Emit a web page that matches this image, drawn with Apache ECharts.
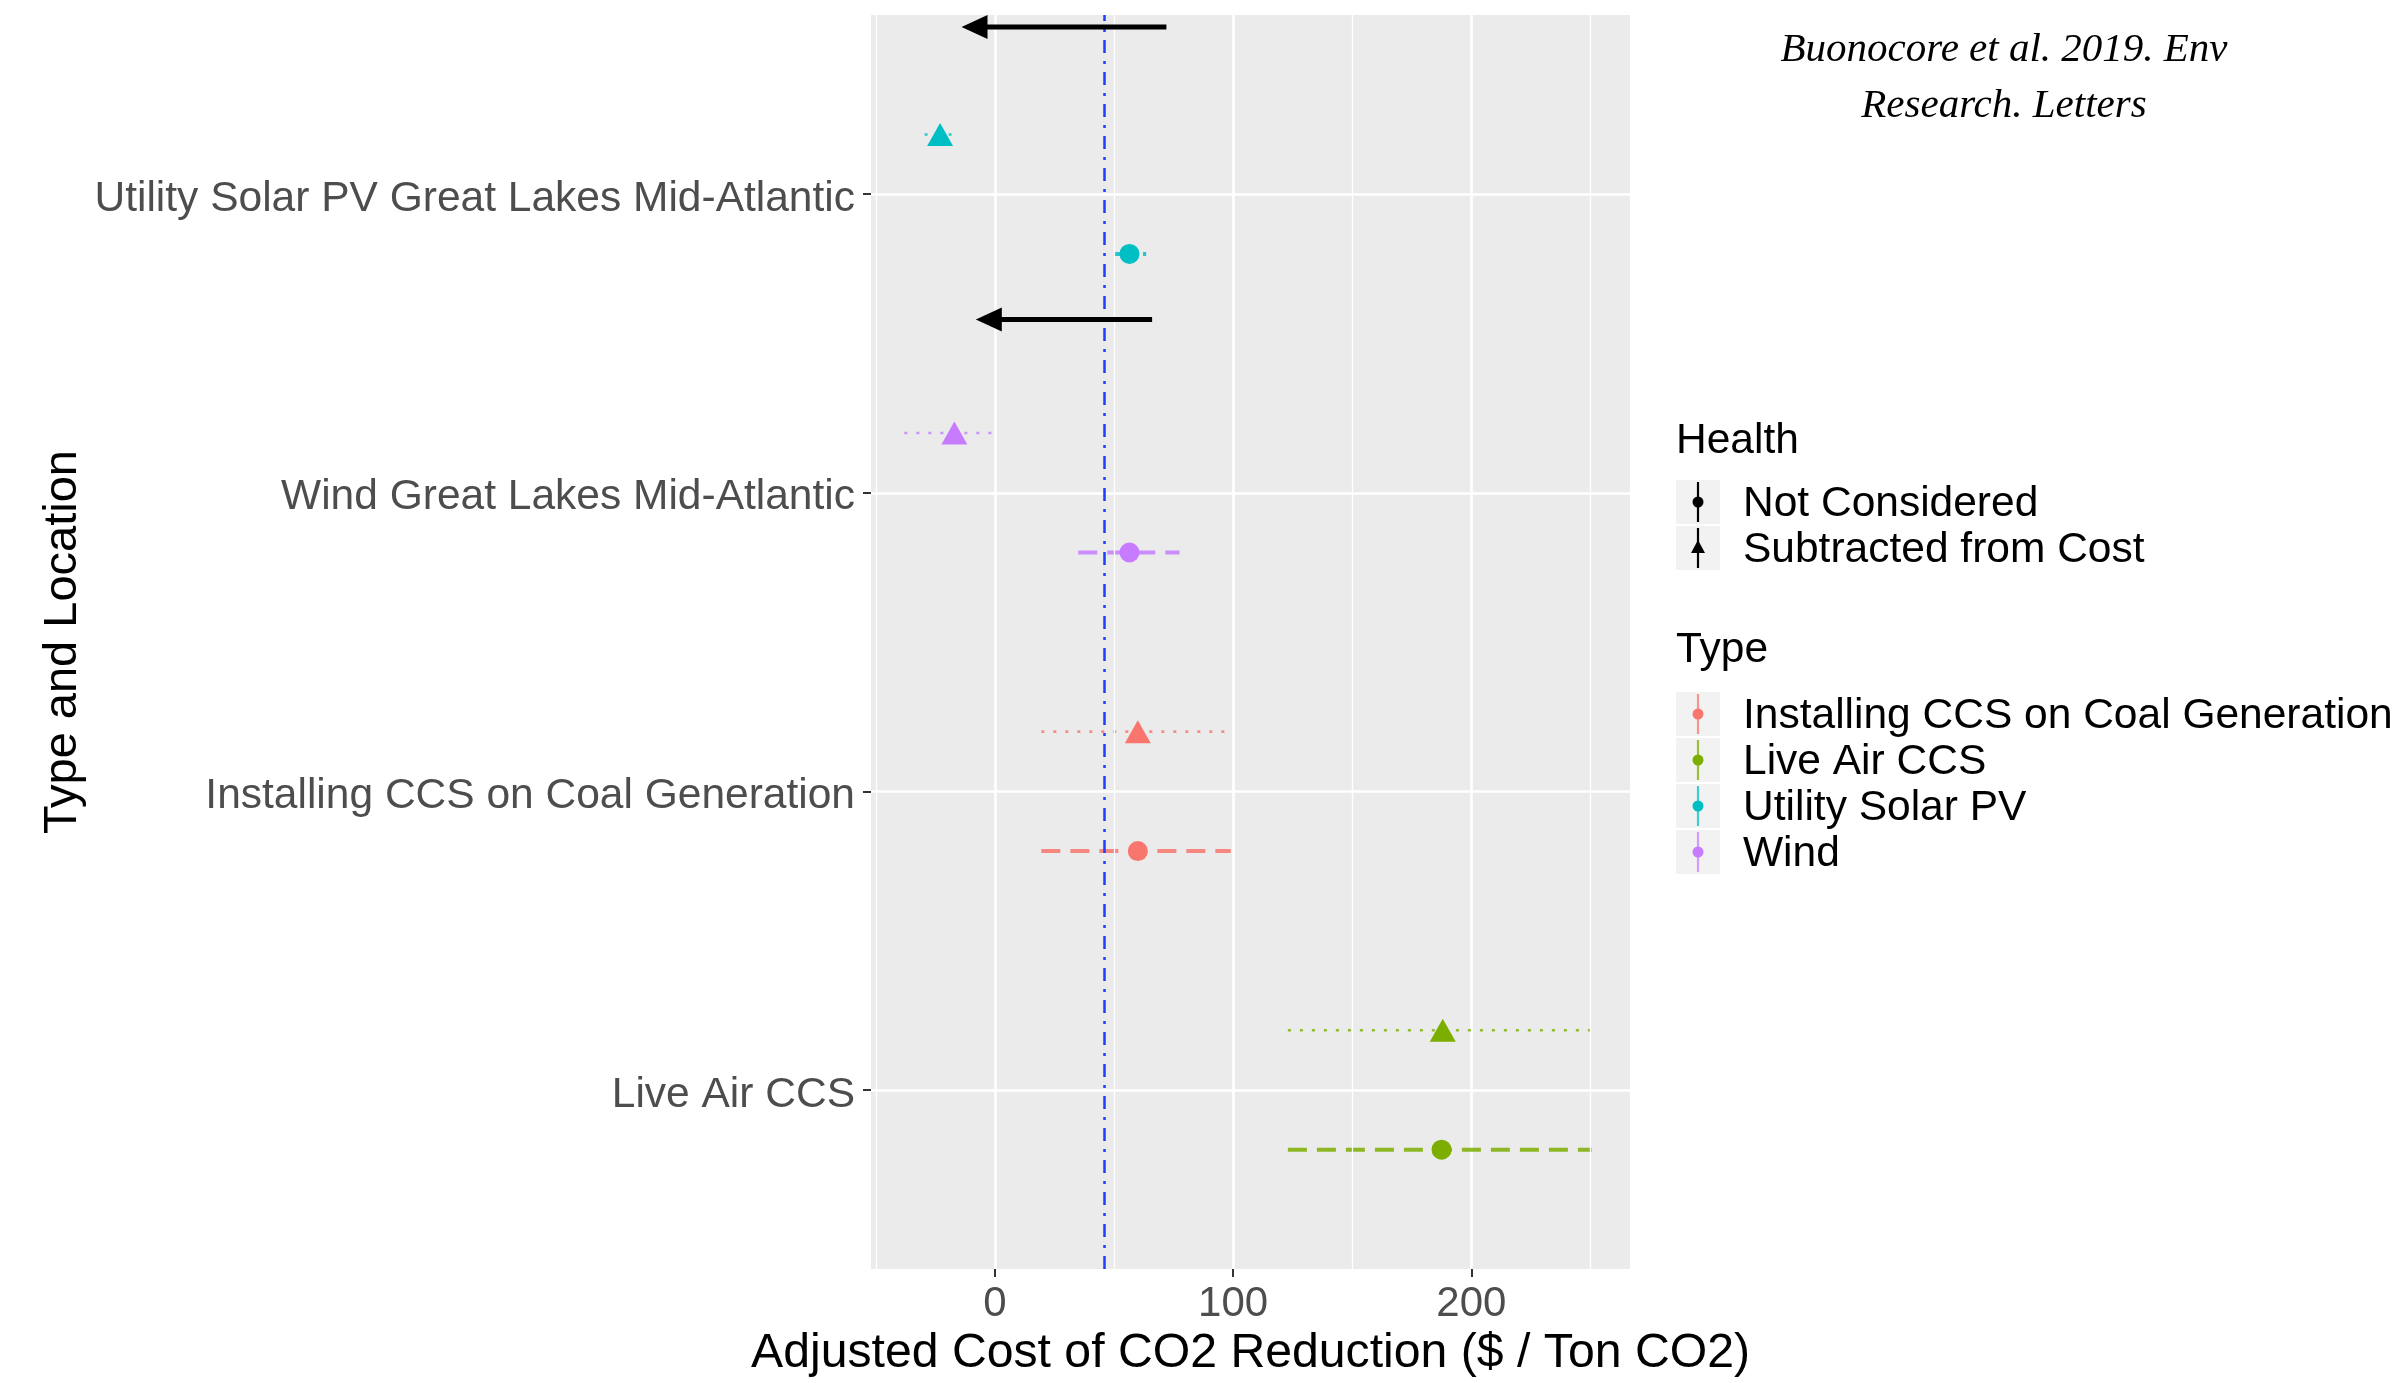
<!DOCTYPE html>
<html>
<head>
<meta charset="utf-8">
<script src="https://cdn.jsdelivr.net/npm/echarts@6/dist/echarts.min.js"></script>
<style>
html,body{margin:0;padding:0;background:#fff;}
#chart{width:2393px;height:1383px;}
</style>
</head>
<body>
<div id="chart"></div>
<script>
// ---------------- DATA ----------------
// y categories (bottom to top)
const categories = ['Live Air CCS', 'Installing CCS on Coal Generation', 'Wind Great Lakes Mid-Atlantic', 'Utility Solar PV Great Lakes Mid-Atlantic'];
// type of each category (index into typeNames)
const categoryType = [1, 0, 3, 2];
const typeNames = ['Installing CCS on Coal Generation', 'Live Air CCS', 'Utility Solar PV', 'Wind'];
const healthNames = ['Not Considered', 'Subtracted from Cost'];
// Health: Not Considered (circles, dashed ranges)
const notConsideredMid  = [187.5, 60, 56.5, 56.5];
const notConsideredLow  = [123, 19.5, 35, 50];
const notConsideredHigh = [250.5, 99, 77.5, 63.5];
// Health: Subtracted from Cost (triangles, dotted ranges)
const subtractedMid  = [188, 60, -17, -23];
const subtractedLow  = [123, 19.5, -38, -29.5];
const subtractedHigh = [252.5, 98, 1.5, -18];
// reference line (dot-dash blue)
const referenceValue = [46];
// annotation arrows: from -> to, at y
const arrowFrom = [72, 66];
const arrowTo = [-14, -8];
const arrowY = [4.56, 3.58];
// axis ticks
const xTicks = [0, 100, 200];
const xMinorGrid = [-50, 50, 150, 250];
const yTicks = [1, 2, 3, 4];
const citation = ['Buonocore et al. 2019. Env', 'Research. Letters'];
const xTitle = 'Adjusted Cost of CO2 Reduction ($ / Ton CO2)';
const yTitle = 'Type and Location';

// ---------------- STYLE ----------------
const typeColors = ['#F8766D', '#7CAE00', '#00BFC4', '#C77CFF'];
const dodge = 0.2;
const FONT = 'Liberation Sans, Arial, sans-serif';

const chart = echarts.init(document.getElementById('chart'), null, {renderer: 'canvas'});

const series = [];

// minor grid lines
series.push({
  type: 'scatter', data: [], z: 1, silent: true,
  markLine: {
    symbol: 'none', silent: true, animation: false,
    label: {show: false},
    lineStyle: {color: '#FFFFFF', width: 1.3, type: 'solid'},
    data: xMinorGrid.map(v => ({xAxis: v}))
  }
});

// error bars
function errorBarSeries(low, high, healthIdx) {
  const data = categories.map((c, i) => [low[i], high[i], i + 1 + (healthIdx === 0 ? -dodge : dodge), categoryType[i]]);
  return {
    type: 'custom', z: 3, silent: true, animation: false,
    data: data,
    encode: {x: [0, 1], y: 2},
    renderItem: function (params, api) {
      const y = api.value(2);
      const p1 = api.coord([api.value(0), y]);
      const p2 = api.coord([api.value(1), y]);
      const col = typeColors[api.value(3)];
      const dashed = healthIdx === 0;
      return {
        type: 'line',
        shape: {x1: p1[0], y1: p1[1], x2: p2[0], y2: p2[1]},
        style: {
          stroke: col,
          lineWidth: dashed ? 4 : 2.6,
          lineDash: dashed ? [19, 10] : [3, 9],
          opacity: dashed ? 0.85 : 0.8
        }
      };
    }
  };
}
series.push(errorBarSeries(notConsideredLow, notConsideredHigh, 0));
series.push(errorBarSeries(subtractedLow, subtractedHigh, 1));

// points
categories.forEach((c, i) => {
  const col = typeColors[categoryType[i]];
  series.push({
    type: 'scatter', z: 4, animation: false, silent: true,
    symbol: 'circle', symbolSize: 20,
    itemStyle: {color: col, opacity: 1},
    data: [[notConsideredMid[i], i + 1 - dodge]]
  });
  series.push({
    type: 'scatter', z: 4, animation: false, silent: true,
    symbol: 'triangle', symbolSize: [26, 23],
    itemStyle: {color: col, opacity: 1},
    data: [[subtractedMid[i], i + 1 + dodge]]
  });
});

// reference line
series.push({
  type: 'scatter', data: [], z: 5, silent: true,
  markLine: {
    symbol: 'none', silent: true, animation: false,
    label: {show: false},
    lineStyle: {color: '#1F3DFF', width: 2.5, type: [13, 8, 3, 8]},
    data: referenceValue.map(v => ({xAxis: v}))
  }
});

// arrows
series.push({
  type: 'custom', z: 6, silent: true, animation: false,
  data: arrowFrom.map((f, i) => [f, arrowTo[i], arrowY[i]]),
  encode: {x: [0, 1], y: 2},
  renderItem: function (params, api) {
    const y = api.value(2);
    const p1 = api.coord([api.value(0), y]);
    const p2 = api.coord([api.value(1), y]);
    const headLen = 26, headHalf = 12;
    return {
      type: 'group',
      children: [
        {type: 'line', shape: {x1: p1[0], y1: p1[1], x2: p2[0] + headLen - 2, y2: p2[1]},
         style: {stroke: '#000', lineWidth: 5}},
        {type: 'polygon', shape: {points: [[p2[0], p2[1]], [p2[0] + headLen, p2[1] - headHalf], [p2[0] + headLen, p2[1] + headHalf]]},
         style: {fill: '#000'}}
      ]
    };
  }
});

// ---------------- LEGEND (graphic) ----------------
const legendX = 1676, keyW = 44, keyH = 44, textX = 1743;
const LFS = 42.5;
const graphics = [];
function addText(txt, x, y, size, color) {
  graphics.push({
    type: 'text', x: x, y: y,
    style: {text: txt, font: size + 'px ' + FONT, fill: color || '#000', textVerticalAlign: 'middle', textAlign: 'left'}
  });
}
addText('Health', legendX, 441, LFS, '#000');
const healthY = [502, 548];
healthNames.forEach((h, i) => {
  const cy = healthY[i];
  graphics.push({type: 'rect', shape: {x: legendX, y: cy - keyH / 2, width: keyW, height: keyH}, style: {fill: '#F2F2F2'}});
  graphics.push({type: 'line', shape: {x1: legendX + keyW / 2, y1: cy - keyH / 2 + 2, x2: legendX + keyW / 2, y2: cy + keyH / 2 - 2}, style: {stroke: '#000', lineWidth: 2.2}});
  if (i === 0) {
    graphics.push({type: 'circle', shape: {cx: legendX + keyW / 2, cy: cy, r: 5.5}, style: {fill: '#000'}});
  } else {
    graphics.push({type: 'polygon', shape: {points: [[legendX + keyW / 2, cy - 8], [legendX + keyW / 2 - 7, cy + 5], [legendX + keyW / 2 + 7, cy + 5]]}, style: {fill: '#000'}});
  }
  addText(h, textX, cy + 2, LFS, '#000');
});
addText('Type', legendX, 650, LFS, '#000');
typeNames.forEach((t, i) => {
  const cy = 714 + 46 * i;
  graphics.push({type: 'rect', shape: {x: legendX, y: cy - keyH / 2, width: keyW, height: keyH}, style: {fill: '#F2F2F2'}});
  graphics.push({type: 'line', shape: {x1: legendX + keyW / 2, y1: cy - keyH / 2 + 2, x2: legendX + keyW / 2, y2: cy + keyH / 2 - 2}, style: {stroke: typeColors[i], lineWidth: 2.2, opacity: 0.75}});
  graphics.push({type: 'circle', shape: {cx: legendX + keyW / 2, cy: cy, r: 5.5}, style: {fill: typeColors[i]}});
  addText(t, textX, cy + 2, LFS, '#000');
});
// citation
citation.forEach((line, i) => {
  graphics.push({
    type: 'text', x: 2004, y: 50 + 56 * i,
    style: {text: line, font: 'italic 41px "Liberation Serif", "Times New Roman", serif', fill: '#000', textAlign: 'center', textVerticalAlign: 'middle'}
  });
});

const option = {
  backgroundColor: '#FFFFFF',
  animation: false,
  grid: {
    left: 871, right: 763, top: 15, bottom: 112,
    show: true, backgroundColor: '#EBEBEB', borderWidth: 0, containLabel: false
  },
  xAxis: {
    type: 'value', min: -52, max: 266.6,
    axisLine: {show: false, onZero: false},
    axisTick: {show: true, customValues: xTicks, length: 8, lineStyle: {color: '#333333', width: 2}},
    axisLabel: {customValues: xTicks, color: '#4D4D4D', fontSize: 42, fontFamily: FONT, margin: 14},
    splitLine: {show: true, lineStyle: {color: '#FFFFFF', width: 2.6}},
    name: xTitle, nameLocation: 'middle', nameGap: 57,
    nameTextStyle: {color: '#000', fontSize: 48.2, fontFamily: FONT}
  },
  yAxis: {
    type: 'value', min: 0.4, max: 4.6,
    axisLine: {show: false, onZero: false},
    axisTick: {show: true, customValues: yTicks, length: 8, lineStyle: {color: '#333333', width: 2}},
    axisLabel: {customValues: yTicks, color: '#4D4D4D', fontSize: 42.5, fontFamily: FONT, margin: 16,
      formatter: v => '{a|' + (categories[Math.round(v) - 1] || '') + '}',
      rich: {a: {color: '#4D4D4D', fontSize: 42.5, fontFamily: FONT, padding: [10, 0, 0, 0]}}},
    splitLine: {show: true, lineStyle: {color: '#FFFFFF', width: 2.6}},
    name: yTitle, nameLocation: 'middle', nameGap: 784, nameRotate: 90,
    nameTextStyle: {color: '#000', fontSize: 47, fontFamily: FONT}
  },
  graphic: graphics,
  series: series
};
chart.setOption(option);
</script>
</body>
</html>
